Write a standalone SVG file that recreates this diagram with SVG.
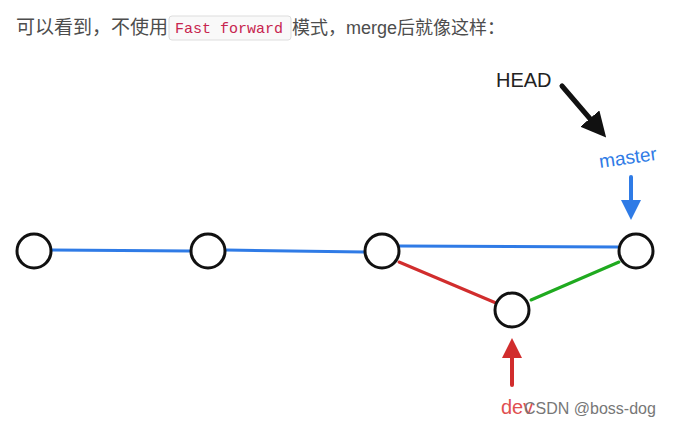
<svg xmlns="http://www.w3.org/2000/svg" width="683" height="429" viewBox="0 0 683 429">
<style>
.n{fill:#fff;stroke:#111;stroke-width:3}
.t{font-family:"Liberation Sans","Noto Sans CJK SC",sans-serif}
</style>
<defs>
<marker id="ab" markerWidth="5" markerHeight="5" refX="2.5" refY="2.5" orient="auto" markerUnits="strokeWidth"><path d="M0,0L5,2.5L0,5Z" fill="#111"/></marker>
<marker id="abl" markerWidth="5" markerHeight="5" refX="2.5" refY="2.5" orient="auto" markerUnits="strokeWidth"><path d="M0,0L5,2.5L0,5Z" fill="#2f7be6"/></marker>
<marker id="ar" markerWidth="5" markerHeight="5" refX="2.5" refY="2.5" orient="auto" markerUnits="strokeWidth"><path d="M0,0L5,2.5L0,5Z" fill="#d12d2d"/></marker>
</defs>
<rect width="683" height="429" fill="#fff"/>
<text class="t" x="16" y="34" font-size="19" fill="#4d4d4d">可以看到，不使用</text>
<rect x="169" y="16" width="122" height="24" rx="3" fill="#f9f9f9" stroke="#ddd"/>
<text x="175" y="33" font-size="15" font-family="Liberation Mono,monospace" fill="#c7254e">Fast forward</text>
<text class="t" x="292" y="34" font-size="18" fill="#4d4d4d">模式，merge后就像这样：</text>
<g id="connectors" fill="none" stroke-width="3" stroke-linecap="round">
<path d="M52,250 L190,251" stroke="#2f7be6"/>
<path d="M226,250 L364,252" stroke="#2f7be6"/>
<path d="M400,246 L618,247" stroke="#2f7be6"/>
<path d="M399,262 L496,303" stroke="#d12d2d"/>
<path d="M531,300 L619,262" stroke="#1faa1f"/>
<path d="M562,86 L598,128" stroke="#111" stroke-width="5" marker-end="url(#ab)"/>
<path d="M631,177 L631,210" stroke="#2f7be6" stroke-width="4" marker-end="url(#abl)"/>
<path d="M512,385 L512,348" stroke="#d12d2d" stroke-width="4" marker-end="url(#ar)"/>
</g>
<g id="c1"><circle class="n" cx="34" cy="251" r="17"/></g>
<g id="c2"><circle class="n" cx="208" cy="251" r="17"/></g>
<g id="c3"><circle class="n" cx="382" cy="251" r="17"/></g>
<g id="c4"><circle class="n" cx="636" cy="251" r="17"/></g>
<g id="c5"><circle class="n" cx="512" cy="310" r="17"/></g>
<g id="HEAD"><text class="t" x="496" y="87" font-size="20" fill="#222">HEAD</text></g>
<g id="master"><text class="t" x="600" y="168" font-size="19" fill="#2f7be6" transform="rotate(-8 600 168)">master</text></g>
<g id="dev"><text class="t" x="501" y="414" font-size="20" fill="#e05050">dev</text></g>
<text class="t" x="524" y="414" font-size="16" fill="#777">CSDN @boss-dog</text>
</svg>
